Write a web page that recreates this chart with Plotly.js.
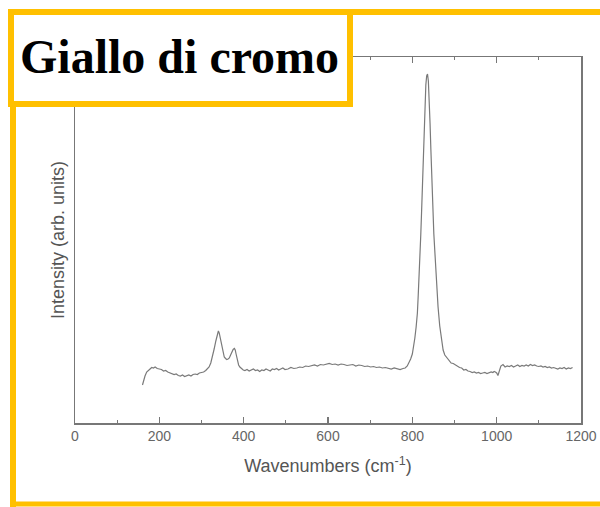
<!DOCTYPE html>
<html>
<head>
<meta charset="utf-8">
<script src="https://cdn.plot.ly/plotly-3.0.1.min.js"></script>
<style>html,body{margin:0;padding:0;background:#fff;}#chart{width:600px;height:507px;}</style>
</head>
<body>
<div id="chart"></div>
<script>
// Raman spectrum, intensity in arbitrary units
const wavenumbers = [160,163,166,170,174,178,182,186,190,195,200,205,210,215,220,225,230,235,240,245,250,255,260,265,270,275,280,285,290,295,300,305,310,314,318,322,326,330,334,337,340,342,345,348,351,354,357,360,363,366,369,372,375,378,380,382,385,388,391,395,399,403,408,413,418,423,428,433,438,443,448,453,458,463,468,473,478,483,488,493,498,505,512,519,526,533,540,547,554,561,568,575,582,589,596,603,610,617,624,631,638,645,652,659,666,673,680,687,694,701,708,715,722,729,736,743,750,757,764,771,778,783,788,792,796,800,803,806,809,812,814,816,818,820,822,824,826,828,830,832,834,836,838,840,842,844,846,848,851,854,857,861,865,869,873,877,882,887,892,897,902,907,912,917,922,927,932,937,942,947,952,957,962,967,972,977,982,987,991,994,997,1000,1003,1006,1010,1015,1020,1025,1030,1035,1040,1045,1050,1055,1060,1065,1070,1075,1080,1085,1090,1095,1100,1105,1110,1115,1120,1125,1130,1135,1140,1145,1150,1155,1160,1165,1170,1175,1180];
const intensity = [38,43,47,51,53,54,55.5,55,56,54.5,54,53.5,52,52.5,51,50,49.5,48.5,49,47.5,47,48,46.5,47.5,48,47,48.5,49,48.5,50,50.5,51,52.5,54,56,60,66,74,82,88,92,90,84,76,70,66,64.5,63.5,64,65,68,71,73.5,74.5,73,69,63,58,56,54,53,52.5,53.5,52,53,54,52.5,53,51.5,53,52.5,54,53,52,54,53.5,54.5,53,54,55,53.5,54,55.5,54.5,55,56,55.5,57,56.5,57.5,58,57,58.5,58,59,59.5,58.5,59,58,59,58.5,57.5,58,58.5,57,58,57.5,56.5,57,56,56.5,55.5,56,55,55.5,54.5,54,55,54,53.5,54.5,55,57,60,64,69,76,85,96,110,128,145,165,188,212,240,270,298,322,338,347,349,342,325,300,273,242,214,189,167,140,116,97,82,73,68,65,63,60,59.5,58,57,55.5,55,53,53.5,52,51.5,50.5,51,50,50.5,49.5,50,50.5,49.5,50,51,50.5,51.5,51,50,47.5,52,57,58.5,56,57,56.5,57.5,56,57,58,56.5,57.5,57,58,57,58.5,57.5,58,57,56.5,57,56,56.5,55.5,56,55,55.5,54.5,54,55,54.5,55.5,54,55,54.5,55.5];
const xTickVals = [0,200,400,600,800,1000,1200];
const xTickText = ['0','200','400','600','800','1000','1200'];
const chartTitle = 'Giallo di cromo';
const xTitle = 'Wavenumbers (cm<sup>-1</sup>)';
const yTitle = 'Intensity (arb. units)';

const yellow = 'rgb(255,192,0)';
const grey = '#666666';

const trace = {
  x: wavenumbers, y: intensity, type: 'scatter', mode: 'lines',
  line: {color: '#7a7a7a', width: 1.2}, hoverinfo: 'skip'
};

const layout = {
  width: 600, height: 507,
  margin: {l: 75, r: 19, t: 57, b: 84},
  paper_bgcolor: '#ffffff', plot_bgcolor: '#ffffff',
  showlegend: false,
  font: {family: 'Liberation Sans, Arial, sans-serif', color: grey},
  xaxis: {
    range: [0, 1200], autorange: false,
    tickvals: xTickVals, ticktext: xTickText,
    ticks: 'inside', ticklen: 6, tickwidth: 1.3, tickcolor: '#777',
    minor: {dtick: 100, tick0: 0, ticks: 'inside', ticklen: 3, tickcolor: '#777'},
    showline: true, linecolor: '#777', linewidth: 1.5, mirror: 'ticks',
    showgrid: false, zeroline: false,
    tickfont: {size: 14, color: grey},
    title: {text: xTitle, font: {size: 18, color: '#555'}, standoff: 16}
  },
  yaxis: {
    range: [0, 366], autorange: false,
    showticklabels: false, ticks: '',
    showline: true, linecolor: '#777', linewidth: 1.5, mirror: true,
    showgrid: false, zeroline: false,
    title: {text: yTitle, font: {size: 18, color: '#555'}, standoff: 4}
  },
  shapes: [
    {type: 'line', xref: 'paper', yref: 'paper', layer: 'above',
     x0: (350-75)/506, x1: (600-75)/506, y0: (423-12)/366, y1: (423-12)/366,
     line: {color: yellow, width: 6}},
    {type: 'line', xref: 'paper', yref: 'paper', layer: 'above',
     x0: (13-75)/506, x1: (13-75)/506, y0: (423-100)/366, y1: (423-507)/366,
     line: {color: yellow, width: 6}},
    {type: 'line', xref: 'paper', yref: 'paper', layer: 'above',
     x0: (13-75)/506, x1: (600-75)/506, y0: (423-504)/366, y1: (423-504)/366,
     line: {color: yellow, width: 5}},
    {type: 'rect', xref: 'paper', yref: 'paper', layer: 'above',
     x0: (11-75)/506, x1: (350-75)/506, y0: (423-104)/366, y1: (423-12)/366,
     fillcolor: '#ffffff', line: {color: yellow, width: 6}}
  ],
  annotations: [
    {text: '<b>' + chartTitle + '</b>', xref: 'paper', yref: 'paper',
     x: (179-75)/506, y: (423-56)/366, xanchor: 'center', yanchor: 'middle',
     showarrow: false, font: {family: 'Liberation Serif, Times New Roman, serif', size: 48, color: '#000'}}
  ]
};

Plotly.newPlot('chart', [trace], layout, {displayModeBar: false, staticPlot: true});
</script>
</body>
</html>
